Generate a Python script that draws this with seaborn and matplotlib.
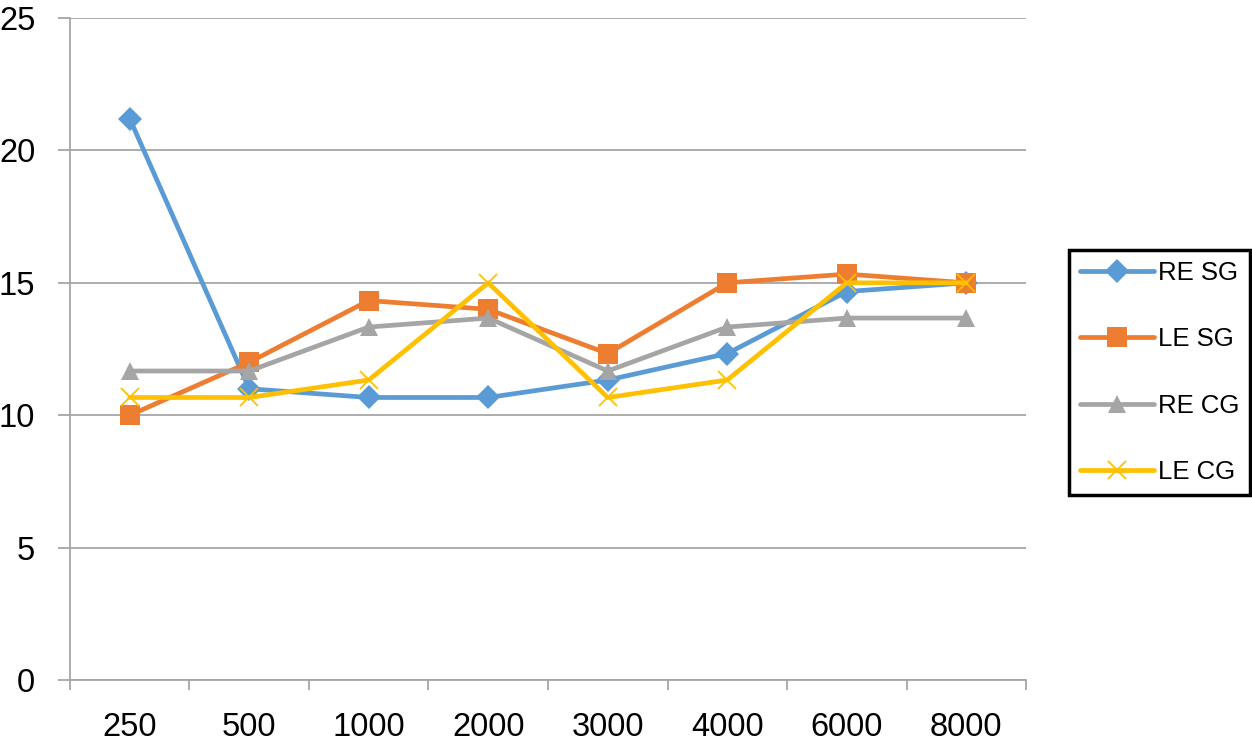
import seaborn as sns
import matplotlib.pyplot as plt
import pandas as pd
import numpy as np

# data
freqs = ['250', '500', '1000', '2000', '3000', '4000', '6000', '8000']
series = ['RE SG', 'LE SG', 'RE CG', 'LE CG']
re_sg = [21.2, 11.0, 10.67, 10.67, 11.33, 12.33, 14.67, 15.0]
le_sg = [10.0, 12.0, 14.33, 14.0, 12.33, 15.0, 15.33, 15.0]
re_cg = [11.67, 11.67, 13.33, 13.67, 11.67, 13.33, 13.67, 13.67]
le_cg = [10.67, 10.67, 11.33, 15.0, 10.67, 11.33, 15.0, 15.0]

colors = ['#5B9BD5', '#ED7D31', '#A5A5A5', '#FFC000']
markers = ['D', 's', '^', 'x']
msizes = [12, 14, 13, 13]

rows = []
for name, vals in zip(series, [re_sg, le_sg, re_cg, le_cg]):
    for f, v in zip(freqs, vals):
        rows.append([f, v, name])
df = pd.DataFrame(rows, columns=['freq', 'value', 'series'])

sns.set_style("white")
plt.rcParams['font.family'] = ['Liberation Sans', 'DejaVu Sans']
plt.rcParams['text.color'] = 'black'
plt.rcParams['xtick.labelcolor'] = 'black'
plt.rcParams['ytick.labelcolor'] = 'black'

fig = plt.figure(figsize=(12.52, 7.45), dpi=100)
ax = fig.add_axes([0.0559, 0.0872, 0.7636, 0.8886])

# one call per series (filled and line-art markers can't be mixed in one call)
for name, c, m, ms in zip(series, colors, markers, msizes):
    sub = df[df['series'] == name]
    sns.lineplot(data=sub, x='freq', y='value', color=c, marker=m,
                 markersize=ms, linewidth=3.4, sort=False, ax=ax, label=name,
                 markeredgecolor=c, markeredgewidth=1.3 if m == 'x' else 0)

ax.set_xlim(-0.5, len(freqs) - 0.5)
ax.set_ylim(0, 25)
ax.set_yticks(range(0, 26, 5))
ax.set_xticks(range(len(freqs)))
ax.set_xticklabels(freqs)
ax.set_xticks(np.arange(-0.5, len(freqs)), minor=True)
ax.set_xlabel('')
ax.set_ylabel('')

ax.yaxis.grid(True, color='#A6A6A6', linewidth=1.3)
ax.set_axisbelow(True)
for s in ['top', 'right']:
    ax.spines[s].set_visible(False)
for s in ['left', 'bottom']:
    ax.spines[s].set_color('#A6A6A6')
    ax.spines[s].set_linewidth(1.3)

ax.tick_params(axis='y', which='major', length=9, width=1.3, color='#A6A6A6',
               labelsize=23.5, pad=16, left=True, labelcolor='black')
ax.tick_params(axis='x', which='major', length=0, labelsize=23.5, pad=23,
               labelcolor='black')
ax.tick_params(axis='x', which='minor', length=7.5, width=1.3, color='#A6A6A6',
               bottom=True, direction='out')

handles, labels = ax.get_legend_handles_labels()
ax.get_legend().remove()
leg = fig.legend(handles, labels, loc='upper left', bbox_to_anchor=(0.8538, 0.6644),
                 fontsize=18.5, frameon=True, fancybox=False, borderaxespad=0,
                 handlelength=2.9, handletextpad=0.15, labelspacing=1.65,
                 borderpad=0.42, framealpha=1, labelcolor='black')
leg.get_frame().set_edgecolor('black')
leg.get_frame().set_linewidth(2.5)

fig.savefig('out.png', dpi=100)
plt.close()
